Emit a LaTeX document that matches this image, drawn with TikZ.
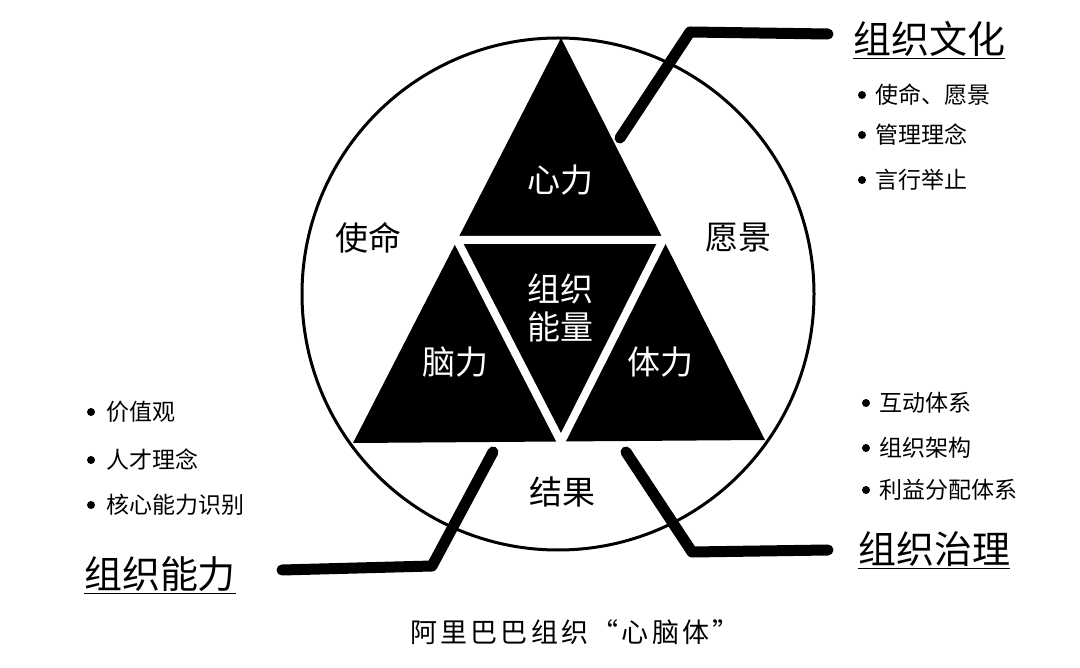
\documentclass[tikz,border=0pt]{standalone}
\usepackage{fontspec}
\newfontfamily\cjk{Noto Sans CJK SC}
\newfontfamily\cjkw[LetterSpace=12]{Noto Sans CJK SC}
\begin{document}
\begin{tikzpicture}[x=1pt,y=-1pt,
  lbl/.style={font=\cjk\fontsize{33}{38}\selectfont,align=center},
  wlbl/.style={lbl,text=white},
  item/.style={font=\cjk\fontsize{23}{27}\selectfont,anchor=west},
  dot/.style={circle,fill=black,inner sep=0pt,minimum size=8pt},
  head/.style={font=\cjk\fontsize{38}{42}\selectfont},
  arm/.style={line width=11pt,line cap=round,line join=round}]
\useasboundingbox[fill=white] (0,0) rectangle (1080,668);
\node[circle,draw,line width=3pt,minimum size=512pt,inner sep=0pt] (c) at (558,294) {};
\fill (561,38) -- (353,443) -- (765,440) -- cycle;
\draw[white,line width=8pt,line join=miter] (457,240) -- (663,240) -- (561,442) -- cycle;
\fill (465,245) -- (655,245) -- (561,428) -- cycle;
\node[wlbl] (xl) at (560,180) {心力};
\node[lbl] (sm) at (368,238) {使命};
\node[lbl] (yj) at (738,238) {愿景};
\node[wlbl] (nl) at (560,308) {组织\\能量};
\node[wlbl] (nao) at (455,362) {脑力};
\node[wlbl] (tl) at (660,362) {体力};
\node[lbl] (jg) at (562,492) {结果};
\coordinate (a1) at (620,138); \coordinate (a2) at (690,32); \coordinate (a3) at (828,34);
\coordinate (b1) at (493,452); \coordinate (b2) at (432,566); \coordinate (b3) at (282,570);
\coordinate (d1) at (626,452); \coordinate (d2) at (692,552); \coordinate (d3) at (828,550);
\draw[arm] (a1) -- (a2) -- (a3);
\draw[arm] (b1) -- (b2) -- (b3);
\draw[arm] (d1) -- (d2) -- (d3);
\node[head] (h1) at (929,40) {\underline{组织文化}};
\node[head] (h2) at (160,575) {\underline{组织能力}};
\node[head] (h3) at (934,550) {\underline{组织治理}};
\foreach \t/\y [count=\i] in {使命、愿景/95,管理理念/135,言行举止/180}{
  \node[dot] (r\i) at (862,\y) {}; \node[item] (rt\i) at (872,\y) {\t};}
\foreach \t/\y [count=\i] in {价值观/412,人才理念/460,核心能力识别/505}{
  \node[dot] (l\i) at (91,\y) {}; \node[item] (lt\i) at (103,\y) {\t};}
\foreach \t/\y [count=\i] in {互动体系/403,组织架构/448,利益分配体系/490}{
  \node[dot] (s\i) at (866,\y) {}; \node[item] (st\i) at (876,\y) {\t};}
\node[font=\cjkw\fontsize{27}{30}\selectfont] (cap) at (575,632) {阿里巴巴组织“心脑体”};
\end{tikzpicture}
\end{document}
